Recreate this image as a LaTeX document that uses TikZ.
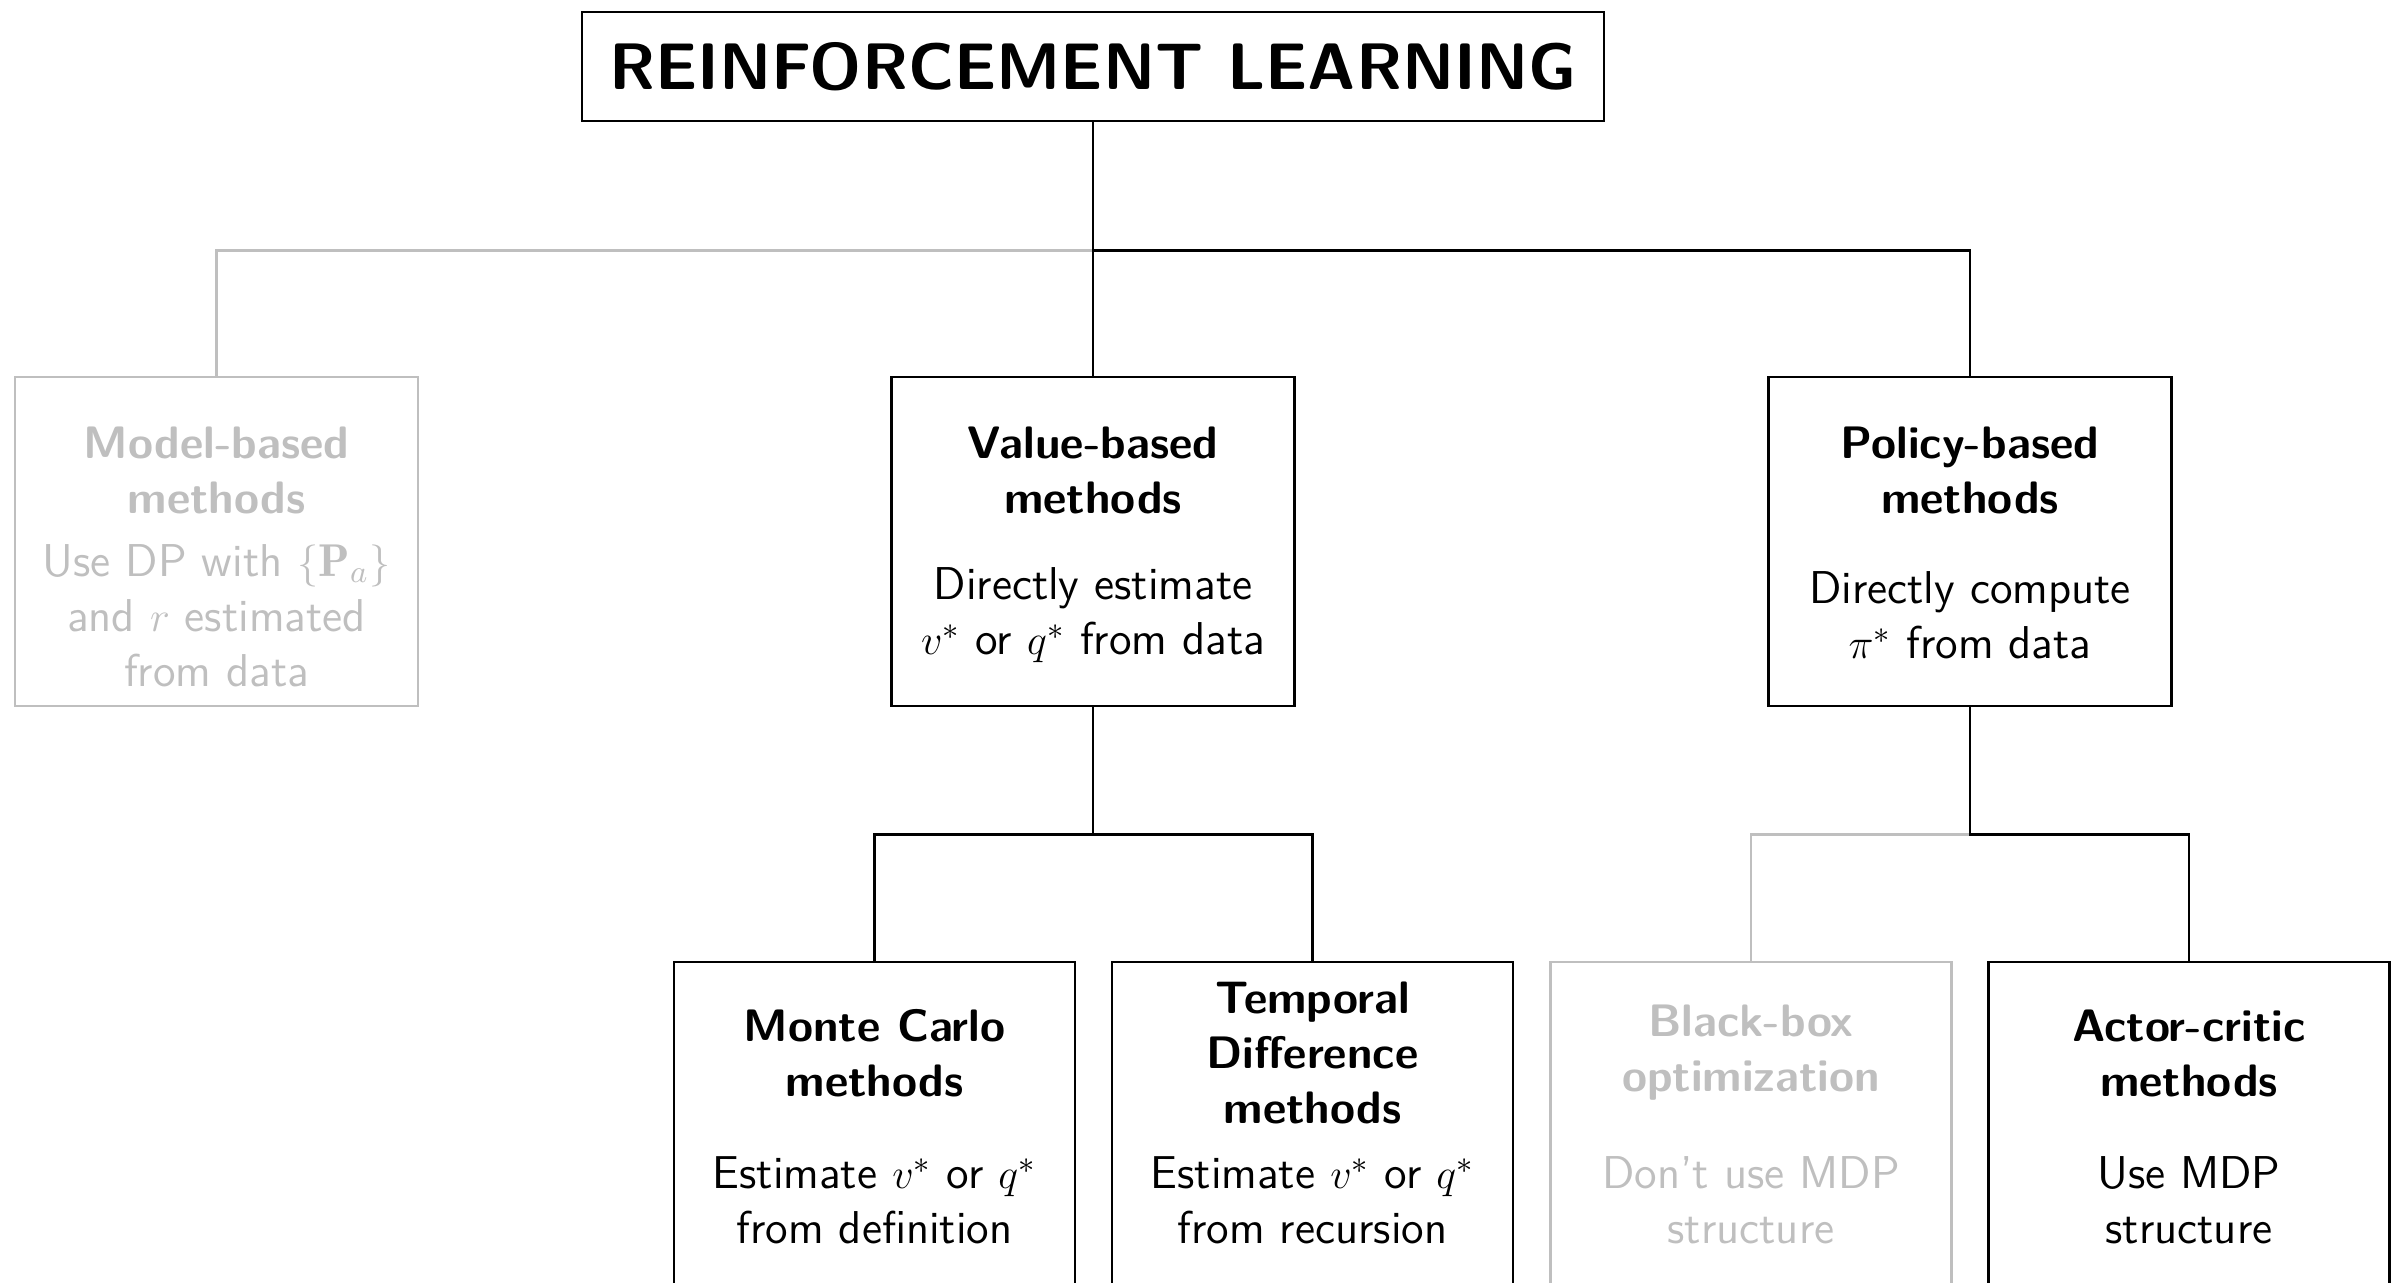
\documentclass[tikz,border=0pt]{standalone}
\usepackage{fontspec}
\renewcommand\familydefault{\sfdefault}
\definecolor{fadegray}{gray}{0.75}
\newcommand\boxfont{\fontsize{13.1}{15.65}\selectfont\sffamily}
\newcommand\headfont{\fontsize{12.95}{15.65}\selectfont\sffamily\bfseries}
\newcommand\titlefont{\fontsize{18.7}{22}\selectfont\sffamily\bfseries}
% text nodes are anchored at the baseline of their last line
\tikzset{
  box/.style={draw, line width=0.8pt, minimum width=4.03cm, minimum height=3.29cm, inner sep=0pt},
  smallbox/.style={box, minimum width=4.01cm},
  titlebox/.style={draw, line width=0.8pt, minimum width=10.22cm, minimum height=1.09cm, inner sep=0pt, font=\titlefont},
  head/.style={font=\headfont, align=center, anchor=base, inner sep=0pt},
  body/.style={font=\boxfont, align=center, anchor=base, inner sep=0pt},
  faded/.style={draw=fadegray, text=fadegray},
  link/.style={line width=0.8pt},
}
\begin{document}
\begin{tikzpicture}
\clip (0,0) rectangle (24.02,-12.83);

% root
\node[titlebox] (root) at (10.93,-0.665) {REINFORCEMENT LEARNING};

% first level
\node[box, faded] (model)  at (2.165,-5.415) {};
\node[box]        (value)  at (10.93,-5.415) {};
\node[box]        (policy) at (19.70,-5.415) {};

\node[head, text=fadegray] (modelH) at ([yshift=-1.38cm]model.north) {Model-based\\methods};
\node[body, text=fadegray] (modelB) at ([yshift=-3.11cm]model.north) {Use DP with $\{\mathbf{P}_a\}$\\and $r$ estimated\\from data};

\node[head] (valueH) at ([yshift=-1.38cm]value.north) {Value-based\\methods};
\node[body] (valueB) at ([yshift=-2.79cm]value.north) {Directly estimate\\$v^*$ or $q^*$ from data};

\node[head] (policyH) at ([yshift=-1.38cm]policy.north) {Policy-based\\methods};
\node[body] (policyB) at ([yshift=-2.83cm]policy.north) {Directly compute\\$\pi^*$ from data};

% second level
\node[smallbox]        (mc) at (8.745,-11.265) {};
\node[smallbox]        (td) at (13.125,-11.265) {};
\node[smallbox, faded] (bb) at (17.51,-11.265) {};
\node[smallbox]        (ac) at (21.89,-11.265) {};

\node[head] (mcH) at ([yshift=-1.36cm]mc.north) {Monte Carlo\\methods};
\node[body] (mcB) at ([yshift=-2.83cm]mc.north) {Estimate $v^*$ or $q^*$\\from definition};

\node[head] (tdH) at ([yshift=-1.63cm]td.north) {Temporal\\Difference\\methods};
\node[body] (tdB) at ([yshift=-2.83cm]td.north) {Estimate $v^*$ or $q^*$\\from recursion};

\node[head, text=fadegray] (bbH) at ([yshift=-1.31cm]bb.north) {Black-box\\optimization};
\node[body, text=fadegray] (bbB) at ([yshift=-2.83cm]bb.north) {Don't use MDP\\structure};

\node[head] (acH) at ([yshift=-1.36cm]ac.north) {Actor-critic\\methods};
\node[body] (acB) at ([yshift=-2.83cm]ac.north) {Use MDP\\structure};

% connectors
\coordinate (j1) at ([yshift=-1.28cm]root.south);
\coordinate (j2) at ([yshift=-1.27cm]value.south);
\coordinate (j3) at ([yshift=-1.27cm]policy.south);

\draw[link, fadegray] (j1) -| (model.north);
\draw[link] (root.south) -- (value.north);
\draw[link] (j1) -| (policy.north);

\draw[link] (value.south) -- (j2);
\draw[link] (mc.north) |- (j2) -| (td.north);

\draw[link, fadegray] (j3) -| (bb.north);
\draw[link] (policy.south) -- (j3) -| (ac.north);
\end{tikzpicture}
\end{document}
